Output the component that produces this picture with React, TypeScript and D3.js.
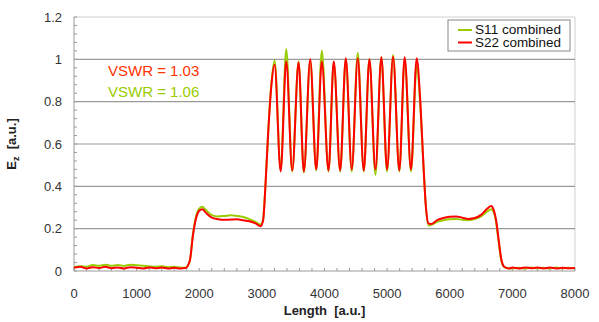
import React from 'react'
import * as d3 from 'd3'

type Pt = [number, number]

const W = 599
const H = 322
const M = { l: 74, r: 24, t: 17, b: 51 }

const yTicks = [0, 0.2, 0.4, 0.6, 0.8, 1, 1.2]
const xTicks = [0, 1000, 2000, 3000, 4000, 5000, 6000, 7000, 8000]
const seriesNames = ['S11 combined', 'S22 combined']

// S11 combined (green)
const s11: Pt[] = [
  [0, 0.018], [100, 0.022], [200, 0.02], [300, 0.028], [400, 0.025], [500, 0.03], [600, 0.025],
  [700, 0.028], [800, 0.024], [900, 0.03], [1000, 0.027], [1100, 0.025], [1200, 0.022], [1300, 0.02],
  [1400, 0.022], [1500, 0.018], [1600, 0.02], [1700, 0.016], [1780, 0.015], [1850, 0.05], [1900, 0.175],
  [1950, 0.26], [2000, 0.295], [2050, 0.303], [2100, 0.29], [2200, 0.264], [2300, 0.258], [2400, 0.26],
  [2500, 0.263], [2600, 0.26], [2700, 0.255], [2800, 0.245], [2900, 0.232], [2980, 0.22], [3020, 0.245],
  [3060, 0.42], [3100, 0.65], [3150, 0.88], [3203, 0.995], [3300, 0.48], [3389, 1.048], [3485, 0.47],
  [3586, 0.99], [3670, 0.465], [3772, 0.99], [3868, 0.475], [3957, 1.04], [4064, 0.47], [4148, 0.985],
  [4250, 0.47], [4340, 1.0], [4435, 0.47], [4531, 1.03], [4627, 0.47], [4717, 1.0], [4813, 0.455],
  [4908, 1.01], [4999, 0.47], [5095, 1.02], [5195, 0.47], [5280, 1.0], [5381, 0.47], [5472, 0.97],
  [5530, 0.78], [5580, 0.5], [5620, 0.3], [5660, 0.215], [5700, 0.218], [5800, 0.232], [5900, 0.24],
  [6000, 0.245], [6100, 0.246], [6200, 0.242], [6300, 0.24], [6400, 0.245], [6500, 0.258], [6600, 0.282],
  [6660, 0.292], [6700, 0.28], [6740, 0.23], [6780, 0.14], [6820, 0.055], [6870, 0.018], [6950, 0.012],
  [7100, 0.015], [7200, 0.012], [7300, 0.016], [7400, 0.013], [7500, 0.015], [7600, 0.012], [7700, 0.016],
  [7800, 0.013], [7900, 0.015], [8000, 0.013],
]

// S22 combined (red)
const s22: Pt[] = [
  [0, 0.015], [100, 0.02], [200, 0.012], [300, 0.018], [400, 0.014], [500, 0.02], [600, 0.013],
  [700, 0.017], [800, 0.012], [900, 0.018], [1000, 0.015], [1100, 0.012], [1200, 0.017], [1300, 0.013],
  [1400, 0.016], [1500, 0.012], [1600, 0.015], [1700, 0.012], [1780, 0.014], [1850, 0.05], [1900, 0.17],
  [1950, 0.25], [2000, 0.285], [2050, 0.292], [2100, 0.277], [2200, 0.252], [2300, 0.245], [2400, 0.242],
  [2500, 0.243], [2600, 0.244], [2700, 0.24], [2800, 0.235], [2900, 0.225], [2980, 0.212], [3020, 0.24],
  [3060, 0.42], [3100, 0.65], [3150, 0.87], [3203, 0.975], [3300, 0.47], [3389, 0.99], [3485, 0.475],
  [3586, 0.985], [3670, 0.47], [3772, 1.0], [3868, 0.48], [3957, 0.99], [4064, 0.475], [4148, 0.99],
  [4250, 0.475], [4340, 1.005], [4435, 0.48], [4531, 1.005], [4627, 0.475], [4717, 1.0], [4813, 0.48],
  [4908, 1.01], [4999, 0.48], [5095, 1.012], [5195, 0.475], [5280, 1.01], [5381, 0.48], [5472, 1.005],
  [5530, 0.8], [5580, 0.5], [5620, 0.3], [5660, 0.225], [5700, 0.222], [5800, 0.24], [5900, 0.25],
  [6000, 0.256], [6100, 0.258], [6200, 0.252], [6300, 0.246], [6400, 0.25], [6500, 0.265], [6600, 0.295],
  [6660, 0.307], [6700, 0.29], [6740, 0.24], [6780, 0.15], [6820, 0.06], [6870, 0.02], [6950, 0.012],
  [7000, 0.016], [7100, 0.012], [7200, 0.017], [7300, 0.013], [7400, 0.016], [7500, 0.012], [7600, 0.016],
  [7700, 0.012], [7800, 0.015], [7900, 0.013], [8000, 0.014],
]

const GREEN = '#99cc00'
const RED = '#ff0000'
const FONT = '"Liberation Sans", Arial, sans-serif'

export default function App() {
  const x = d3.scaleLinear().domain([0, 8000]).range([M.l, W - M.r])
  const y = d3.scaleLinear().domain([0, 1.2]).range([H - M.b, M.t])
  const line = d3.line<Pt>().x((d) => x(d[0])).y((d) => y(d[1])).curve(d3.curveMonotoneX)
  const x0 = x(0), x1 = x(8000), y0 = y(0), y1 = y(1.2)
  const yMinor = d3.range(0, 1.2001, 0.04)
  const xMinor = d3.range(0, 8001, 200)

  return (
    <svg width={W} height={H} style={{ position: 'absolute', left: 0, top: 0, background: '#fff' }} fontFamily={FONT}>
      {/* frame + grid */}
      <line x1={x0} x2={x1} y1={y1} y2={y1} stroke="#d0d0d0" />
      <line x1={x1} x2={x1} y1={y1} y2={y0} stroke="#d0d0d0" />
      {yTicks.filter((t) => t > 0 && t < 1.2).map((t) => (
        <line key={t} x1={x0} x2={x1} y1={y(t)} y2={y(t)} stroke="#9a9a9a" strokeWidth={1.2} />
      ))}
      {yMinor.map((t, i) => (
        <line key={'ym' + i} x1={x0} x2={x0 + 3} y1={y(t)} y2={y(t)} stroke="#9a9a9a" />
      ))}
      {xMinor.map((t) => (
        <line key={'xm' + t} x1={x(t)} x2={x(t)} y1={y0} y2={y0 - 3} stroke="#9a9a9a" />
      ))}
      <line x1={x0} x2={x0} y1={y1} y2={y0} stroke="#9a9a9a" />
      <line x1={x0} x2={x1} y1={y0} y2={y0} stroke="#9a9a9a" />

      {/* tick labels */}
      {yTicks.map((t) => (
        <text key={'yl' + t} x={62} y={y(t)} dy="0.35em" textAnchor="end" fontSize={13} fill="#333">
          {d3.format('~g')(t)}
        </text>
      ))}
      {xTicks.map((t) => (
        <text key={'xl' + t} x={x(t)} y={298} textAnchor="middle" fontSize={13} fill="#333">
          {t}
        </text>
      ))}

      {/* series */}
      <path d={line(s11) ?? ''} fill="none" stroke={GREEN} strokeWidth={2} strokeLinejoin="round" />
      <path d={line(s22) ?? ''} fill="none" stroke={RED} strokeWidth={2} strokeLinejoin="round" />

      {/* annotations */}
      <text x={108} y={76} fontSize={15} fill="#ff3300">VSWR = 1.03</text>
      <text x={108} y={97} fontSize={15} fill={GREEN}>VSWR = 1.06</text>

      {/* axis titles */}
      <text x={(x0 + x1) / 2} y={315} textAnchor="middle" fontSize={13} fontWeight="bold" fill="#222" xmlSpace="preserve">
        {'Length  [a.u.]'}
      </text>
      <text transform={`translate(16,${(y0 + y1) / 2}) rotate(-90)`} textAnchor="middle" fontSize={13} fontWeight="bold" fill="#222" xmlSpace="preserve">
        E<tspan fontSize={9} dy={3}>z</tspan><tspan dy={-3}>{'  [a.u.]'}</tspan>
      </text>

      {/* legend */}
      <rect x={448} y={20} width={122} height={31} fill="#fff" stroke="#888" />
      {[GREEN, RED].map((c, i) => (
        <g key={c}>
          <line x1={458} x2={472} y1={30 + i * 12.5} y2={30 + i * 12.5} stroke={c} strokeWidth={2} />
          <text x={475} y={34 + i * 12.5} fontSize={12} textLength={86} lengthAdjust="spacingAndGlyphs" fill="#111">{seriesNames[i]}</text>
        </g>
      ))}
    </svg>
  )
}
